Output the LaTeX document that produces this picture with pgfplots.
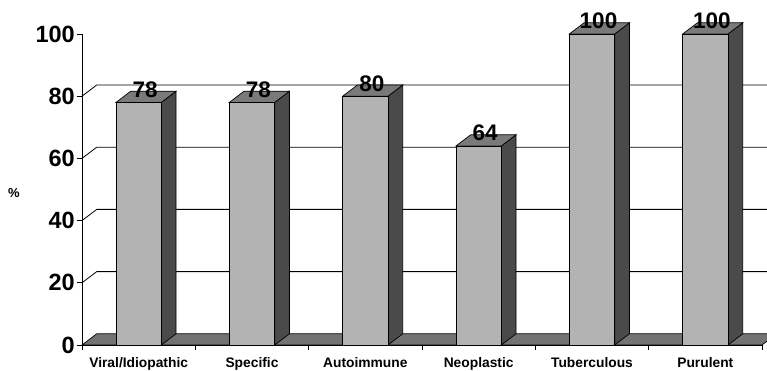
\documentclass[border=0pt]{standalone}
\usepackage{fontspec}
\setmainfont{Liberation Sans}
\usepackage{pgfplots}
\pgfplotsset{compat=1.18}
\definecolor{frontc}{HTML}{B3B3B3}
\definecolor{sidec}{HTML}{4A4A4A}
\definecolor{topc}{HTML}{7A7A7A}
\definecolor{floorc}{HTML}{737373}
\newcommand{\dX}{0.13}
\newcommand{\dY}{3.6}
\newcommand{\hW}{0.2}
% side and top faces of a 3-D bar at category centre #1 with value #2
\newcommand{\sidetop}[2]{%
  \pgfmathsetmacro{\xl}{#1-\hW}%
  \pgfmathsetmacro{\xr}{#1+\hW}%
  \pgfmathsetmacro{\xrr}{#1+\hW+\dX}%
  \pgfmathsetmacro{\xlr}{#1-\hW+\dX}%
  \pgfmathsetmacro{\yt}{#2+\dY}%
  \addplot[fill=sidec, draw=black, line width=0.7pt] coordinates {(\xr,0) (\xrr,\dY) (\xrr,\yt) (\xr,#2)} -- cycle;
  \addplot[fill=topc, draw=black, line width=0.7pt] coordinates {(\xl,#2) (\xr,#2) (\xrr,\yt) (\xlr,\yt)} -- cycle;
}
\begin{document}
\begin{tikzpicture}
\begin{axis}[
  name=ax,
  scale only axis, width=680pt, height=311pt,
  xmin=0, xmax=6, ymin=0, ymax=100,
  clip=false,
  axis x line*=bottom, axis y line*=left,
  axis line style={line width=0.8pt},
  tick style={black, line width=0.8pt},
  tick align=outside, major tick length=5pt,
  ytick={0,20,...,100},
  yticklabel style={font=\fontsize{23.5}{24}\selectfont\bfseries, inner sep=2pt},
  /pgf/number format/assume math mode=true,
  xtick={0,1,...,6}, xticklabels={},
  extra x ticks={0.5,1.5,2.5,3.5,4.5,5.5},
  extra x tick labels={Viral/Idiopathic, Specific, Autoimmune, Neoplastic, Tuberculous, Purulent},
  extra x tick style={major tick length=0pt, tick label style={font=\fontsize{13.8}{14}\selectfont\bfseries, inner sep=0pt, yshift=-12pt}},
  ylabel={\%},
  every axis y label/.style={at={(axis description cs:0,0.49)}, anchor=center, xshift=-68pt, font=\fontsize{13}{13}\selectfont\bfseries},
]
% back-wall grid lines
\addplot[black, line width=0.8pt] coordinates {(0,20) (0.13,23.6) (6.13,23.6)};
\addplot[black, line width=0.8pt] coordinates {(0,40) (0.13,43.6) (6.13,43.6)};
\addplot[black, line width=0.8pt] coordinates {(0,60) (0.13,63.6) (6.13,63.6)};
\addplot[black, line width=0.8pt] coordinates {(0,80) (0.13,83.6) (6.13,83.6)};
% floor
\addplot[fill=floorc, draw=black, line width=0.7pt] coordinates {(0,0) (6,0) (6.13,3.6) (0.13,3.6)} -- cycle;
% side and top faces
\sidetop{0.5}{78}
\sidetop{1.5}{78}
\sidetop{2.5}{80}
\sidetop{3.5}{64}
\sidetop{4.5}{100}
\sidetop{5.5}{100}
% front faces with value labels
\addplot[ybar, bar width=0.4, fill=frontc, draw=black, line width=0.7pt,
  nodes near coords,
  every node near coord/.append style={anchor=base, xshift=6.5pt, yshift=5pt, font=\fontsize{22.5}{23}\selectfont\bfseries, black}]
  coordinates {(0.5,78) (1.5,78) (2.5,80) (3.5,64) (4.5,100) (5.5,100)};
\end{axis}
\pgfresetboundingbox
\path ([xshift=-82pt,yshift=-26pt]ax.south west) rectangle ([xshift=5pt,yshift=34pt]ax.north east);
\end{tikzpicture}
\end{document}
